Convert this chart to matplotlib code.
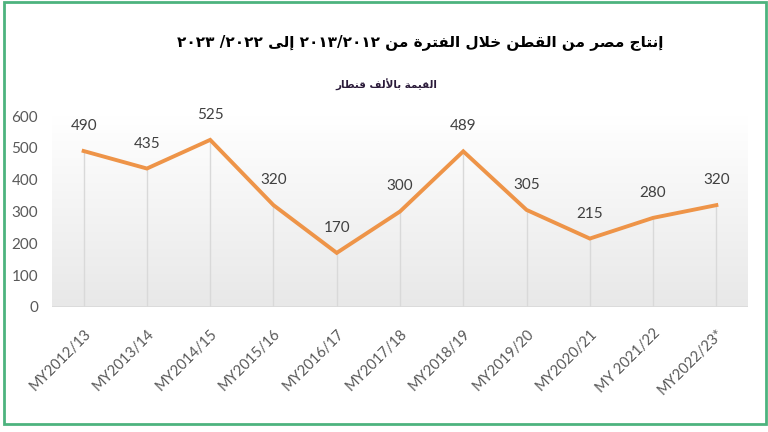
import matplotlib
matplotlib.use("Agg")
import matplotlib.pyplot as plt
import numpy as np
from matplotlib.patches import Rectangle

categories = ["MY2012/13", "MY2013/14", "MY2014/15", "MY2015/16", "MY2016/17",
              "MY2017/18", "MY2018/19", "MY2019/20", "MY2020/21", "MY 2021/22",
              "MY2022/23*"]
production = [490, 435, 525, 320, 170, 300, 489, 305, 215, 280, 320]
yticks = [0, 100, 200, 300, 400, 500, 600]

title_text = "إنتاج مصر من القطن خلال الفترة من ٢٠١٢/٢٠١٣ إلى ٢٠٢٢/ ٢٠٢٣"
subtitle_text = "القيمة بالألف قنطار"

# ---- minimal Arabic shaping + RTL ordering (matplotlib has no text shaping) ----
FORMS = {  # isolated, final, initial, medial
    'ا': ('\uFE8D', '\uFE8E', None, None),
    'أ': ('\uFE83', '\uFE84', None, None),
    'إ': ('\uFE87', '\uFE88', None, None),
    'ب': ('\uFE8F', '\uFE90', '\uFE91', '\uFE92'),
    'ة': ('\uFE93', '\uFE94', None, None),
    'ت': ('\uFE95', '\uFE96', '\uFE97', '\uFE98'),
    'ج': ('\uFE9D', '\uFE9E', '\uFE9F', '\uFEA0'),
    'خ': ('\uFEA5', '\uFEA6', '\uFEA7', '\uFEA8'),
    'ر': ('\uFEAD', '\uFEAE', None, None),
    'ص': ('\uFEB9', '\uFEBA', '\uFEBB', '\uFEBC'),
    'ط': ('\uFEC1', '\uFEC2', '\uFEC3', '\uFEC4'),
    'ف': ('\uFED1', '\uFED2', '\uFED3', '\uFED4'),
    'ق': ('\uFED5', '\uFED6', '\uFED7', '\uFED8'),
    'ل': ('\uFEDD', '\uFEDE', '\uFEDF', '\uFEE0'),
    'م': ('\uFEE1', '\uFEE2', '\uFEE3', '\uFEE4'),
    'ن': ('\uFEE5', '\uFEE6', '\uFEE7', '\uFEE8'),
    'ى': ('\uFEEF', '\uFEF0', None, None),
    'ي': ('\uFEF1', '\uFEF2', '\uFEF3', '\uFEF4'),
}
LAMALEF = {'ا': ('\uFEFB', '\uFEFC'), 'أ': ('\uFEF7', '\uFEF8'), 'إ': ('\uFEF9', '\uFEFA')}


def dual(c):
    return c in FORMS and FORMS[c][2] is not None


def shape_word(w):
    out = []
    i = 0
    n = len(w)
    while i < n:
        c = w[i]
        if c not in FORMS:
            out.append(c)
            i += 1
            continue
        prev_join = i > 0 and dual(w[i - 1])
        if c == 'ل' and i + 1 < n and w[i + 1] in LAMALEF:
            iso, fin = LAMALEF[w[i + 1]]
            out.append(fin if prev_join else iso)
            i += 2
            continue
        next_join = dual(c) and i + 1 < n and w[i + 1] in FORMS
        iso, fin, ini, med = FORMS[c]
        if prev_join and next_join:
            out.append(med)
        elif prev_join:
            out.append(fin)
        elif next_join:
            out.append(ini)
        else:
            out.append(iso)
        i += 1
    return ''.join(reversed(out))


def visual(text):
    toks = []
    for tok in text.split(' '):
        if any(ch in FORMS for ch in tok):
            toks.append(shape_word(tok))
        else:
            runs, cur = [], ''
            for ch in tok:
                isd = '\u0660' <= ch <= '\u0669'
                if cur and (('\u0660' <= cur[-1] <= '\u0669') != isd):
                    runs.append(cur)
                    cur = ''
                cur += ch
            if cur:
                runs.append(cur)
            toks.append(''.join(reversed(runs)))
    return ' '.join(reversed(toks))


# ---- figure ----
fig = plt.figure(figsize=(7.68, 4.32), dpi=100)
fig.patch.set_facecolor('white')
ax = fig.add_axes([52 / 768, 1 - 307 / 432, 696 / 768, 191 / 432])

x = np.arange(len(categories))
ax.set_xlim(-0.5, len(categories) - 0.5)
ax.set_ylim(0, 600)

# gradient background of plot area
grad = np.linspace(1.0, 0.0, 256).reshape(-1, 1)
top_c = np.array([1.0, 1.0, 1.0])
bot_c = np.array([0.91, 0.91, 0.91])
img = bot_c + (top_c - bot_c) * grad[..., None]
img = img.reshape(256, 1, 3)
ax.imshow(img, extent=[-0.5, len(categories) - 0.5, 0, 600], aspect='auto',
          zorder=0, origin='upper')
ax.set_facecolor('white')

# drop lines
ax.vlines(x, 0, production, color='#D9D9D9', linewidth=1.0, zorder=1)
ax.axhline(0, color='#D9D9D9', linewidth=1.2, zorder=1)

ax.plot(x, production, color='#EE9448', linewidth=2.8, zorder=3,
        solid_joinstyle='miter')

lab_font = ['Lato', 'Open Sans', 'DejaVu Sans']
for xi, v in zip(x, production):
    ax.annotate(str(v), (xi, v), xytext=(0, 18), textcoords='offset points',
                ha='center', va='center', fontsize=11, color='#404040',
                family=lab_font, zorder=4)

for s in ax.spines.values():
    s.set_visible(False)
ax.set_yticks(yticks)
ax.set_yticklabels([str(t) for t in yticks], fontsize=11, color='#595959',
                   family=lab_font)
ax.set_xticks(x)
ax.set_xticklabels(categories, rotation=45, ha='right', va='top',
                   rotation_mode='anchor', fontsize=10.5, color='#595959',
                   family=lab_font)
ax.tick_params(axis='both', length=0)
ax.tick_params(axis='y', pad=10)
ax.tick_params(axis='x', pad=14)

ar_font = ['DejaVu Sans', 'Noto Sans']
fig.text(420 / 768, 1 - 42 / 432, visual(title_text), ha='center', va='center',
         fontsize=11, fontweight='bold', color='black', family=ar_font)
fig.text(386 / 768, 1 - 85 / 432, visual(subtitle_text), ha='center', va='center',
         fontsize=7.5, fontweight='bold', color='#2B1B3A', family=ar_font)

# green frame
fig.patches.append(Rectangle((4 / 768, 8 / 432), 762 / 768, 422 / 432,
                             transform=fig.transFigure, fill=False,
                             edgecolor='#4DB37E', linewidth=2.0))

fig.savefig('out.png', dpi=100)
